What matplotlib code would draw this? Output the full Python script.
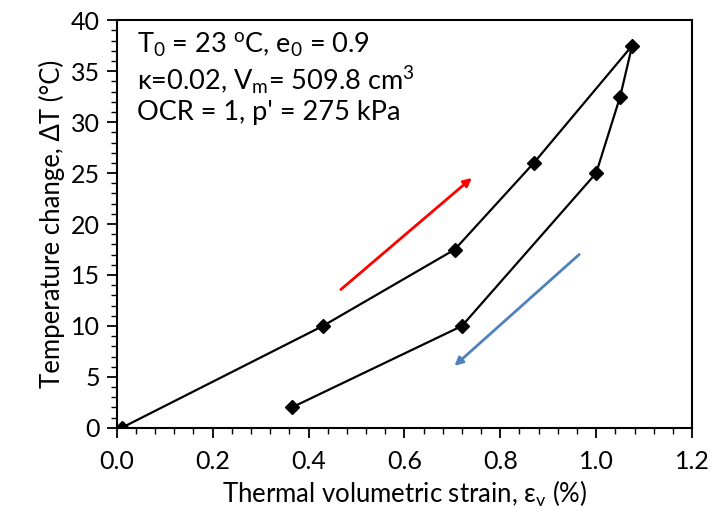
import numpy as np
import matplotlib.pyplot as plt
from matplotlib.ticker import MultipleLocator

# datos
strain = [0.01, 0.43, 0.705, 0.87, 1.075, 1.05, 1.0, 0.72, 0.365]
dT = [0, 10, 17.5, 26, 37.5, 32.5, 25, 10, 2]

red_arrow = [(0.463, 13.4), (0.745, 24.7)]
blue_arrow = [(0.969, 17.2), (0.70, 5.9)]

plt.rcParams['font.family'] = ['Lato', 'DejaVu Sans']
plt.rcParams['mathtext.fontset'] = 'custom'
plt.rcParams['mathtext.rm'] = 'Lato'
plt.rcParams['mathtext.it'] = 'Lato'

fig = plt.figure(figsize=(7.12, 5.18), dpi=100)
ax = fig.add_axes([0.164, 0.174, 0.808, 0.787])

ax.plot(strain, dT, color='black', lw=1.6, marker='D', ms=7, mfc='black', mec='black')

ax.annotate('', xy=red_arrow[1], xytext=red_arrow[0],
            arrowprops=dict(arrowstyle='-|>', color='#ff0000', lw=2, mutation_scale=12))
ax.annotate('', xy=blue_arrow[1], xytext=blue_arrow[0],
            arrowprops=dict(arrowstyle='-|>', color='#4f81bd', lw=2, mutation_scale=12))

ax.set_xlim(0, 1.2)
ax.set_ylim(0, 40)
ax.xaxis.set_major_locator(MultipleLocator(0.2))
ax.xaxis.set_minor_locator(MultipleLocator(0.04))
ax.yaxis.set_major_locator(MultipleLocator(5))
ax.yaxis.set_minor_locator(MultipleLocator(1))
ax.xaxis.set_major_formatter(plt.FormatStrFormatter('%.1f'))
ax.tick_params(which='major', direction='out', length=7, width=1.3, labelsize=18, colors='black')
ax.tick_params(which='minor', direction='out', length=4, width=1.0)
ax.tick_params(axis='x', pad=9)
ax.tick_params(axis='y', pad=5)
for s in ax.spines.values():
    s.set_linewidth(1.5)

ax.set_xlabel(r'Thermal volumetric strain, $\mathrm{\varepsilon_v}$ (%)', fontsize=18.5, labelpad=4)
ax.set_ylabel('Temperature change, ΔT (°C)', fontsize=18.5, labelpad=4)

txt = ('T$_0$ = 23 $^\\mathrm{o}$C, e$_0$ = 0.9\n'
       'κ=0.02, V$_\\mathrm{m}$= 509.8 cm$^3$\n'
       "OCR = 1, p' = 275 kPa")
ax.text(0.035, 0.975, txt, transform=ax.transAxes, fontsize=19.5, va='top', ha='left',
        linespacing=1.2)

fig.savefig('out.png', dpi=100)
